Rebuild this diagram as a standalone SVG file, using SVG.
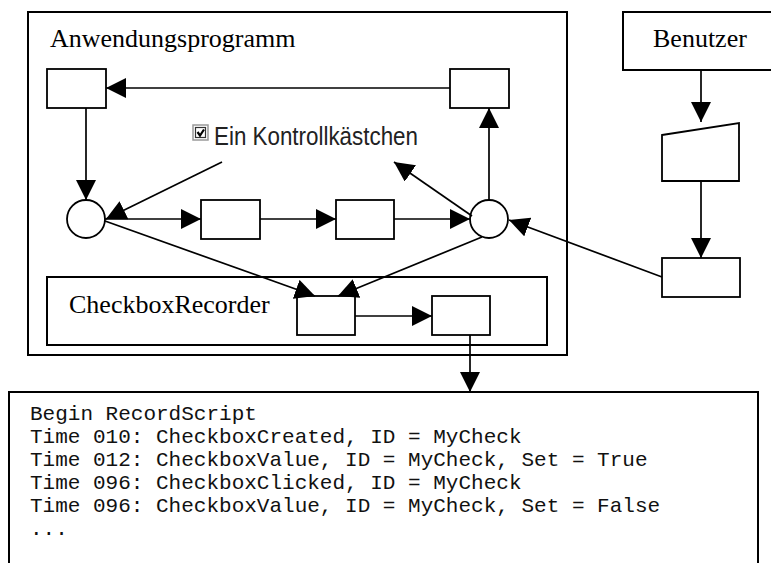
<svg xmlns="http://www.w3.org/2000/svg" width="771" height="563" viewBox="0 0 771 563">
  <defs>
    <marker id="arrow" viewBox="0 0 20 20" refX="20" refY="10" markerWidth="20" markerHeight="20" orient="auto" markerUnits="userSpaceOnUse">
      <path d="M0,0 L20,10 L0,20 z" fill="#000"/>
    </marker>
    <style>
      .box { fill: #fff; stroke: #000; stroke-width: 2; }
      .frame { fill: none; stroke: #000; stroke-width: 2; }
      .node { fill: #fff; stroke: #000; stroke-width: 1.8; }
      .edge { fill: none; stroke: #000; stroke-width: 1.7; marker-end: url(#arrow); }
      .title { font-family: "Liberation Serif", "Times New Roman", serif; font-size: 26px; fill: #000; }
      .code { font-family: "Liberation Mono", "Courier New", monospace; font-size: 21px; fill: #111; }
      .label { font-family: "Liberation Sans", Arial, sans-serif; font-size: 26px; fill: #222; }
    </style>
  </defs>

  <!-- containers -->
  <g id="anwendungsprogramm">
    <rect class="frame" x="28" y="12" width="539" height="343"/>
    <text class="title" x="50" y="47">Anwendungsprogramm</text>
  </g>
  <g id="checkboxrecorder">
    <rect class="frame" x="47" y="277" width="500" height="68"/>
    <text class="title" x="69" y="313">CheckboxRecorder</text>
  </g>
  <g id="benutzer">
    <rect class="box" x="623" y="12" width="152" height="58"/>
    <text class="title" x="653" y="47">Benutzer</text>
  </g>

  <!-- inner nodes of the application -->
  <g id="box-top-left"><rect class="node" x="47" y="69" width="59" height="39"/></g>
  <g id="box-top-right"><rect class="node" x="450" y="69" width="59" height="39"/></g>
  <g id="circle-left"><circle class="node" cx="86" cy="219" r="19"/></g>
  <g id="circle-right"><circle class="node" cx="489" cy="219" r="19"/></g>
  <g id="box-mid-1"><rect class="node" x="201" y="200" width="59" height="39"/></g>
  <g id="box-mid-2"><rect class="node" x="336" y="200" width="58" height="39"/></g>
  <g id="rec-box-1"><rect class="node" x="297" y="296" width="58" height="39"/></g>
  <g id="rec-box-2"><rect class="node" x="432" y="296" width="58" height="39"/></g>

  <!-- checkbox widget with its caption -->
  <g id="checkbox">
    <rect x="193" y="125" width="15" height="15" fill="#fff" stroke="#9a9a9a" stroke-width="1.5"/>
    <rect x="195.5" y="127.5" width="10" height="10" fill="none" stroke="#333" stroke-width="1.2"/>
    <path d="M197.5,132 L200,135.5 L204,129.5" fill="none" stroke="#000" stroke-width="2.2"/>
    <text class="label" x="214" y="145" textLength="204" lengthAdjust="spacingAndGlyphs">Ein Kontrollkästchen</text>
  </g>

  <!-- user side -->
  <g id="input-device"><path class="node" d="M662,135 L739,123 L739,181 L662,181 z"/></g>
  <g id="box-input"><rect class="node" x="662" y="258" width="78" height="39"/></g>

  <!-- recorded script -->
  <g id="record-script">
    <rect class="box" x="9" y="392" width="749" height="185"/>
    <text class="code" x="30" y="420">Begin RecordScript</text>
    <text class="code" x="30" y="443">Time 010: CheckboxCreated, ID = MyCheck</text>
    <text class="code" x="30" y="466">Time 012: CheckboxValue, ID = MyCheck, Set = True</text>
    <text class="code" x="30" y="489">Time 096: CheckboxClicked, ID = MyCheck</text>
    <text class="code" x="30" y="512">Time 096: CheckboxValue, ID = MyCheck, Set = False</text>
    <text class="code" x="30" y="535">...</text>
  </g>

  <!-- connectors -->
  <g id="connectors">
    <line class="edge" x1="450" y1="88" x2="106" y2="88"/>
    <line class="edge" x1="86" y1="108" x2="86" y2="200"/>
    <line class="edge" x1="222" y1="162" x2="106" y2="219"/>
    <line class="edge" x1="105" y1="219" x2="201" y2="219"/>
    <line class="edge" x1="260" y1="219" x2="336" y2="219"/>
    <line class="edge" x1="394" y1="219" x2="470" y2="219"/>
    <line class="edge" x1="489" y1="200" x2="489" y2="108"/>
    <line class="edge" x1="472" y1="216" x2="394" y2="162"/>
    <line class="edge" x1="105" y1="221" x2="315" y2="296"/>
    <line class="edge" x1="482" y1="237" x2="338" y2="296"/>
    <line class="edge" x1="355" y1="316" x2="432" y2="316"/>
    <line class="edge" x1="470" y1="335" x2="470" y2="392"/>
    <line class="edge" x1="701" y1="70" x2="701" y2="122"/>
    <line class="edge" x1="701" y1="181" x2="701" y2="258"/>
    <line class="edge" x1="662" y1="277" x2="509" y2="220"/>
  </g>
</svg>
